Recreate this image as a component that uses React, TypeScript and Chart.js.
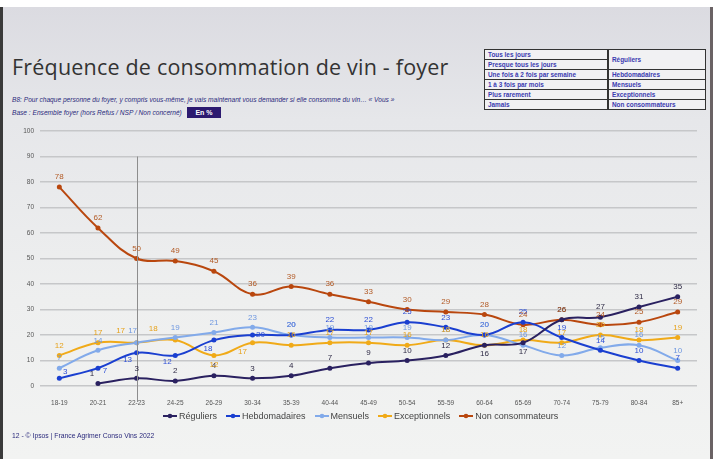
import React, { useEffect, useRef } from "react";
import { Chart, registerables } from "chart.js";

Chart.register(...registerables);

const categories = ["18-19", "20-21", "22-23", "24-25", "26-29", "30-34", "35-39", "40-44", "45-49", "50-54", "55-59", "60-64", "65-69", "70-74", "75-79", "80-84", "85+"];
const reguliers = [null, 1, 3, 2, 4, 3, 4, 7, 9, 10, 12, 16, 17, 26, 27, 31, 35];
const hebdomadaires = [3, 7, 13, 12, 18, 20, 20, 22, 22, 25, 23, 20, 25, 19, 14, 10, 7];
const mensuels = [7, 14, 17, 19, 21, 23, 20, 19, 19, 19, 18, 20, 16, 12, 15, 16, 10];
const exceptionnels = [12, 17, 17, 18, 12, 17, 16, 17, 17, 16, 18, 16, 18, 17, 20, 18, 19];
const nonConsommateurs = [78, 62, 50, 49, 45, 36, 39, 36, 33, 30, 29, 28, 24, 26, 24, 25, 29];
const yTicks = [0, 10, 20, 30, 40, 50, 60, 70, 80, 90, 100];

const seriesNames = ["Réguliers", "Hebdomadaires", "Mensuels", "Exceptionnels", "Non consommateurs"];
const seriesValues = [reguliers, hebdomadaires, mensuels, exceptionnels, nonConsommateurs];
const lineColors = ["#2a2160", "#1a3fd0", "#82aaea", "#f0aa18", "#b9470e"];
const labelColors = ["#2e2a45", "#2d4fd6", "#6f98e0", "#e6a21c", "#b25a25"];

// label placement tweaks (style only), key: seriesIndex-pointIndex -> [dx, dy]
const labelShift: Record<string, [number, number]> = {
  "0-1": [-6, -10],
  "1-0": [6, -7],
  "1-1": [7, 3],
  "1-2": [-9, 7],
  "1-3": [-8, 6],
  "1-4": [-6, 9],
  "1-5": [8, 0],
  "2-2": [-4, -12],
  "3-2": [-16, -12],
  "3-3": [-22, -11],
  "3-4": [0, 9],
  "3-5": [-10, 9],
  "0-11": [0, 9],
  "0-12": [0, 9],
};

const tableLeft = ["Tous les jours", "Presque tous les jours", "Une fois à 2 fois par semaine", "1 à 3 fois par mois", "Plus rarement", "Jamais"];
const tableRight = ["Réguliers", "Hebdomadaires", "Mensuels", "Exceptionnels", "Non consommateurs"];

const NARROW = '"Liberation Sans Narrow", "Arial Narrow", "Liberation Sans", Arial, sans-serif';

export default function App() {
  const ref = useRef<HTMLCanvasElement>(null);
  useEffect(() => {
    if (!ref.current) return;
    const labelPlugin = {
      id: "valueLabels",
      afterDatasetsDraw(chart: any) {
        const ctx = chart.ctx;
        const yS = chart.scales.y;
        const xS = chart.scales.x;
        ctx.save();
        ctx.strokeStyle = "#8d8d8d";
        ctx.lineWidth = 1;
        const vx = Math.round(xS.getPixelForValue(2)) + 0.5;
        ctx.beginPath();
        ctx.moveTo(vx, yS.getPixelForValue(90));
        ctx.lineTo(vx, chart.chartArea.bottom + 16);
        ctx.stroke();
        ctx.restore();
        ctx.save();
        ctx.font = "8px " + NARROW;
        ctx.textAlign = "center";
        ctx.textBaseline = "middle";
        chart.data.datasets.forEach((ds: any, di: number) => {
          const meta = chart.getDatasetMeta(di);
          meta.data.forEach((pt: any, i: number) => {
            const v = ds.data[i];
            if (v === null || v === undefined) return;
            const sh = labelShift[di + "-" + i] || [0, -10];
            ctx.fillStyle = labelColors[di];
            ctx.fillText(String(v), pt.x + sh[0], pt.y + sh[1]);
          });
        });
        ctx.restore();
      },
    };
    const chart = new Chart(ref.current, {
      type: "line",
      data: {
        labels: categories,
        datasets: seriesNames.map((n, i) => ({
          label: n,
          data: seriesValues[i],
          borderColor: lineColors[i],
          backgroundColor: lineColors[i],
          borderWidth: 2,
          pointRadius: 2.5,
          pointBorderWidth: 0,
          tension: 0.4,
          fill: false,
        })),
      },
      options: {
        responsive: false,
        devicePixelRatio: 1,
        animation: false,
        layout: { padding: { top: 131, right: 16, bottom: 53, left: 0 } },
        plugins: { legend: { display: false }, tooltip: { enabled: false } },
        scales: {
          x: {
            offset: true,
            grid: { display: false },
            border: { display: false },
            ticks: { font: { size: 6.5, family: NARROW }, color: "#555", padding: 5, maxRotation: 0, autoSkip: false },
            afterFit: (s: any) => { s.height = 20; },
          },
          y: {
            min: 0,
            max: 100,
            afterBuildTicks: (s: any) => { s.ticks = yTicks.map((v) => ({ value: v })); },
            grid: { color: "#c6c7c9", lineWidth: 1.5, drawTicks: false },
            border: { display: false },
            ticks: { font: { size: 6.5, family: NARROW }, color: "#555", padding: 6 },
            afterFit: (s: any) => { s.width = 40; },
          },
        },
      },
      plugins: [labelPlugin],
    });
    return () => chart.destroy();
  }, []);

  const wrap: React.CSSProperties = {
    position: "fixed", left: 0, top: 0, width: 713, height: 459, overflow: "hidden",
    background: "linear-gradient(180deg, #ffffff 0px, #ffffff 7px, #dbdbe1 7px, #e6e7ea 120px, #eeefef 300px, #f2f3f2 459px)",
    fontFamily: '"Liberation Sans", Arial, sans-serif',
  };
  const cell: React.CSSProperties = { border: "1px solid #333", padding: "0 3px", lineHeight: "9px", whiteSpace: "nowrap" };
  return (
    <div style={wrap}>
      <div style={{ position: "absolute", left: 0, top: 7, width: 3, height: 452, background: "#3a3a3a" }} />
      <div style={{ position: "absolute", right: 0, top: 7, width: 3, height: 452, background: "#6a6264" }} />
      <div style={{ position: "absolute", left: 12, top: 52, fontFamily: '"Open Sans", sans-serif', fontSize: 21.5, color: "#333", whiteSpace: "nowrap", letterSpacing: 0.2 }}>
        Fréquence de consommation de vin - foyer
      </div>
      <div style={{ position: "absolute", left: 12, top: 96, fontSize: 6.6, fontStyle: "italic", color: "#2b2a7c", whiteSpace: "nowrap" }}>
        B8: Pour chaque personne du foyer, y compris vous-même, je vais maintenant vous demander si elle consomme du vin… « Vous »
      </div>
      <div style={{ position: "absolute", left: 12, top: 109, fontSize: 6.6, fontStyle: "italic", color: "#2b2a7c", whiteSpace: "nowrap" }}>
        Base : Ensemble foyer (hors Refus / NSP / Non concerné)
      </div>
      <div style={{ position: "absolute", left: 187, top: 107, width: 34, height: 11, background: "#2c1a70", color: "#fff", fontSize: 7, fontWeight: "bold", textAlign: "center", lineHeight: "11px" }}>
        En %
      </div>
      <table style={{ position: "absolute", left: 484, top: 49, width: 222, borderCollapse: "collapse", background: "#f1f1f3", fontSize: 6.4, fontWeight: "bold", color: "#3a3ab0", border: "1.5px solid #333" }}>
        <tbody>
          {tableLeft.map((t, i) => (
            <tr key={i} style={{ height: 10 }}>
              <td style={{ ...cell, borderRight: "2px solid #333", width: 116 }}>{t}</td>
              {i === 0 ? (
                <td rowSpan={2} style={cell}>{tableRight[0]}</td>
              ) : i === 1 ? null : (
                <td style={cell}>{tableRight[i - 1]}</td>
              )}
            </tr>
          ))}
        </tbody>
      </table>
      <canvas ref={ref} width={713} height={459} style={{ position: "absolute", left: 0, top: 0, width: 713, height: 459 }} />
      <div style={{ position: "absolute", left: 163, top: 411, display: "flex", alignItems: "center", gap: 9, fontFamily: NARROW, fontSize: 9, color: "#444", whiteSpace: "nowrap" }}>
        {seriesNames.map((n, i) => (
          <div key={i} style={{ display: "flex", alignItems: "center", gap: 2 }}>
            <svg width={14} height={8}>
              <line x1={0} y1={4} x2={14} y2={4} stroke={lineColors[i]} strokeWidth={2} />
              <circle cx={7} cy={4} r={2.3} fill={lineColors[i]} />
            </svg>
            <span>{n}</span>
          </div>
        ))}
      </div>
      <div style={{ position: "absolute", left: 12, top: 432, fontFamily: NARROW, fontSize: 6.8, color: "#2b2a7c", whiteSpace: "nowrap" }}>
        12 - © Ipsos | France Agrimer Conso Vins 2022
      </div>
    </div>
  );
}
